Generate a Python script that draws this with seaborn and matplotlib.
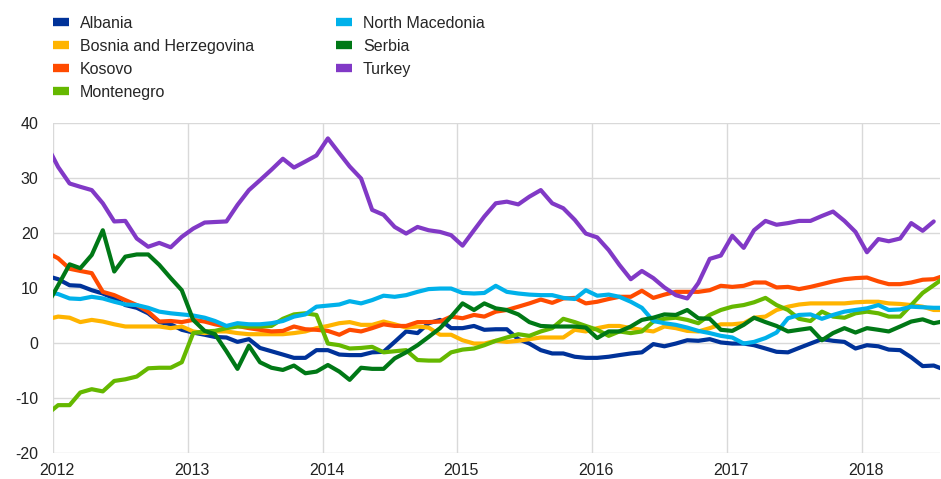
import pandas as pd
import seaborn as sns
import matplotlib.pyplot as plt
import matplotlib.dates as mdates
import matplotlib.transforms as mtransforms
from matplotlib.lines import Line2D

# monthly values, Dec 2011 .. Aug 2018 (Turkey ends Jul 2018)
albania = [12.2, 11.6, 10.5, 10.4, 9.6, 9.0, 8.1, 6.9, 6.4, 5.4, 3.8, 3.4, 2.4,
           1.9, 1.5, 1.1, 1.0, 0.2, 0.7, -0.9, -1.5, -2.1, -2.7, -2.7, -1.3,
           -1.3, -2.1, -2.2, -2.2, -1.7, -1.6, 0.2, 2.1, 1.8, 3.6, 4.2, 2.7,
           2.7, 3.1, 2.4, 2.5, 2.5, 0.7, -0.1, -1.3, -1.9, -1.9, -2.5, -2.7,
           -2.7, -2.5, -2.2, -1.9, -1.7, -0.2, -0.6, -0.1, 0.5, 0.4, 0.7, 0.1,
           -0.1, -0.1, -0.4, -1.0, -1.6, -1.7, -0.9, -0.1, 0.7, 0.4, 0.2, -1.0,
           -0.4, -0.6, -1.2, -1.3, -2.6, -4.2, -4.1, -4.9]
bosnia = [4.3, 4.8, 4.6, 3.8, 4.2, 3.9, 3.4, 3.0, 3.0, 3.0, 3.0, 2.7, 3.0,
          2.1, 1.8, 2.1, 2.1, 1.8, 1.6, 1.6, 1.6, 1.6, 1.8, 2.1, 2.7,
          3.1, 3.6, 3.8, 3.3, 3.3, 3.9, 3.4, 2.8, 3.0, 2.8, 1.5, 1.5,
          0.5, -0.1, -0.1, 0.4, 0.2, 0.4, 0.7, 1.0, 1.0, 1.0, 2.4, 2.1,
          2.7, 3.1, 3.1, 2.7, 2.4, 2.1, 3.0, 2.7, 2.2, 2.1, 2.7, 3.4,
          3.4, 3.6, 4.6, 4.8, 6.0, 6.6, 7.0, 7.2, 7.2, 7.2, 7.2, 7.4,
          7.5, 7.5, 7.2, 7.1, 6.9, 6.6, 6.0, 6.0]
kosovo = [16.5, 15.4, 13.5, 13.1, 12.7, 9.3, 8.7, 7.8, 6.9, 5.7, 3.9, 4.0, 3.8,
          4.2, 3.9, 3.4, 3.0, 3.1, 2.7, 2.4, 2.1, 2.2, 3.0, 2.5, 2.4,
          2.2, 1.5, 2.4, 2.1, 2.7, 3.4, 3.1, 3.1, 3.8, 3.8, 3.9, 4.8,
          4.5, 5.1, 4.8, 5.7, 6.0, 6.6, 7.2, 7.9, 7.3, 8.1, 8.2, 7.2,
          7.5, 8.0, 8.4, 8.4, 9.5, 8.2, 8.8, 9.3, 9.3, 9.3, 9.6, 10.4,
          10.2, 10.4, 11.0, 11.0, 10.1, 10.2, 9.8, 10.2, 10.7, 11.2, 11.6, 11.8,
          11.9, 11.2, 10.7, 10.7, 11.0, 11.5, 11.6, 12.3]
montenegro = [-13.0, -11.3, -11.3, -9.0, -8.4, -8.8, -6.9, -6.6, -6.1, -4.6, -4.5, -4.5, -3.5,
              1.8, 2.1, 2.2, 2.7, 3.0, 3.0, 3.0, 3.1, 4.4, 5.2, 5.4, 5.1,
              -0.1, -0.4, -1.0, -0.9, -0.7, -1.7, -1.5, -1.3, -3.1, -3.2, -3.2, -1.7,
              -1.2, -1.0, -0.4, 0.4, 1.0, 1.6, 1.3, 2.1, 2.7, 4.4, 3.8, 3.1,
              2.4, 1.3, 2.1, 1.8, 2.1, 3.9, 4.4, 4.6, 4.2, 3.6, 5.1, 6.0,
              6.6, 6.9, 7.4, 8.2, 6.9, 6.0, 4.4, 4.0, 5.7, 4.8, 4.6, 5.4,
              5.7, 5.4, 4.8, 4.8, 6.9, 9.1, 10.5, 12.0]
north_macedonia = [9.3, 8.9, 8.1, 8.0, 8.4, 8.1, 7.5, 7.0, 6.9, 6.4, 5.7, 5.4, 5.2,
                   5.0, 4.6, 4.0, 3.1, 3.6, 3.4, 3.4, 3.6, 4.0, 4.8, 5.2, 6.6,
                   6.8, 7.0, 7.6, 7.2, 7.8, 8.6, 8.4, 8.7, 9.3, 9.8, 9.9, 9.9,
                   9.1, 9.0, 9.1, 10.4, 9.3, 9.0, 8.8, 8.7, 8.7, 8.2, 8.0, 9.6,
                   8.6, 8.8, 8.4, 7.5, 6.4, 4.0, 3.6, 3.3, 2.8, 2.2, 1.8, 1.3,
                   1.0, -0.1, 0.2, 0.9, 1.9, 4.5, 5.1, 5.2, 4.4, 5.1, 5.7, 6.0,
                   6.3, 6.9, 6.0, 6.1, 6.6, 6.5, 6.4, 6.4]
serbia = [6.8, 10.5, 14.3, 13.6, 16.0, 20.5, 13.0, 15.7, 16.1, 16.1, 14.2, 11.8, 9.6,
          4.2, 2.2, 1.6, -1.5, -4.7, -0.5, -3.5, -4.5, -4.9, -4.1, -5.5, -5.2,
          -4.0, -5.2, -6.7, -4.5, -4.7, -4.7, -2.8, -1.7, -0.4, 1.1, 2.7, 4.8,
          7.2, 6.0, 7.2, 6.3, 6.0, 5.2, 3.8, 3.1, 3.0, 3.0, 3.0, 2.8,
          0.9, 2.1, 2.1, 3.0, 4.2, 4.6, 5.2, 5.1, 6.0, 4.5, 4.4, 2.4,
          2.2, 3.3, 4.6, 3.8, 3.1, 2.1, 2.4, 2.7, 0.5, 1.8, 2.7, 1.9,
          2.7, 2.4, 2.1, 3.0, 3.9, 4.3, 3.6, 4.0]
turkey = [36.0, 32.0, 29.0, 28.4, 27.8, 25.4, 22.1, 22.2, 19.0, 17.5, 18.2, 17.4, 19.3,
          20.8, 21.9, 22.0, 22.1, 25.1, 27.8, 29.6, 31.5, 33.5, 31.9, 33.0, 34.1,
          37.2, 34.5, 32.1, 29.9, 24.2, 23.3, 21.1, 19.9, 21.1, 20.5, 20.2, 19.6,
          17.7, 20.5, 23.0, 25.4, 25.7, 25.2, 26.6, 27.8, 25.4, 24.5, 22.4, 19.9,
          19.2, 16.9, 14.2, 11.6, 13.1, 11.8, 10.1, 8.7, 8.1, 10.9, 15.3, 15.9,
          19.5, 17.3, 20.5, 22.2, 21.5, 21.8, 22.2, 22.2, 23.1, 23.9, 22.2, 20.2,
          16.5, 18.9, 18.5, 19.0, 21.8, 20.4, 22.1]

countries = ["Albania", "Bosnia and Herzegovina", "Kosovo", "Montenegro",
             "North Macedonia", "Serbia", "Turkey"]
series = [albania, bosnia, kosovo, montenegro, north_macedonia, serbia, turkey]
colors = ["#003299", "#FFB400", "#FF4B00", "#65B800", "#00B1EA", "#007816", "#8139C6"]
palette = dict(zip(countries, colors))

dates = pd.date_range("2011-12-01", periods=len(albania), freq="MS") + pd.Timedelta(days=14)

frames = []
for name, vals in zip(countries, series):
    frames.append(pd.DataFrame({"date": dates[:len(vals)], "value": vals, "country": name}))
df = pd.concat(frames, ignore_index=True)

sns.set_style("white")
plt.rcParams["font.family"] = ["Liberation Sans", "DejaVu Sans"]
plt.rcParams["axes.unicode_minus"] = False

fig = plt.figure(figsize=(9.41, 4.79), dpi=100)
ax = fig.add_axes([53 / 941, 1 - 453 / 479, 887 / 941, 330 / 479])

sns.lineplot(data=df, x="date", y="value", hue="country", palette=palette,
             hue_order=countries, linewidth=3, ax=ax, legend=False)

ax.set_xlim(pd.Timestamp("2012-01-01"), pd.Timestamp("2018-08-01"))
ax.set_ylim(-20, 40)
ax.set_yticks(range(-20, 41, 10))
ax.xaxis.set_major_locator(mdates.YearLocator())
ax.xaxis.set_major_formatter(mdates.DateFormatter("%Y"))
ax.set_xlabel("")
ax.set_ylabel("")
ax.grid(True, color="#d9d9d9", linewidth=1)
ax.set_axisbelow(True)
for s in ax.spines.values():
    s.set_visible(False)
ax.tick_params(axis="both", length=0, labelsize=11.5, colors="#222222")
ax.tick_params(axis="y", pad=10.5)
ax.tick_params(axis="x", pad=7)

# year labels sit a touch right of the gridlines in the original
shift = mtransforms.ScaledTranslation(4 / 100, 0, fig.dpi_scale_trans)
for lbl in ax.get_xticklabels():
    lbl.set_transform(lbl.get_transform() + shift)

handles = [Line2D([0], [0], color=c, linewidth=6, solid_capstyle="butt") for c in colors]
fig.legend(handles, countries, loc="upper left", bbox_to_anchor=(53 / 941, 1 - 16 / 479),
           ncol=2, frameon=False, fontsize=11.5, handlelength=1.0, handletextpad=0.7,
           columnspacing=5.1, labelspacing=0.5, borderpad=0, borderaxespad=0)

fig.savefig("out.png", dpi=100)
